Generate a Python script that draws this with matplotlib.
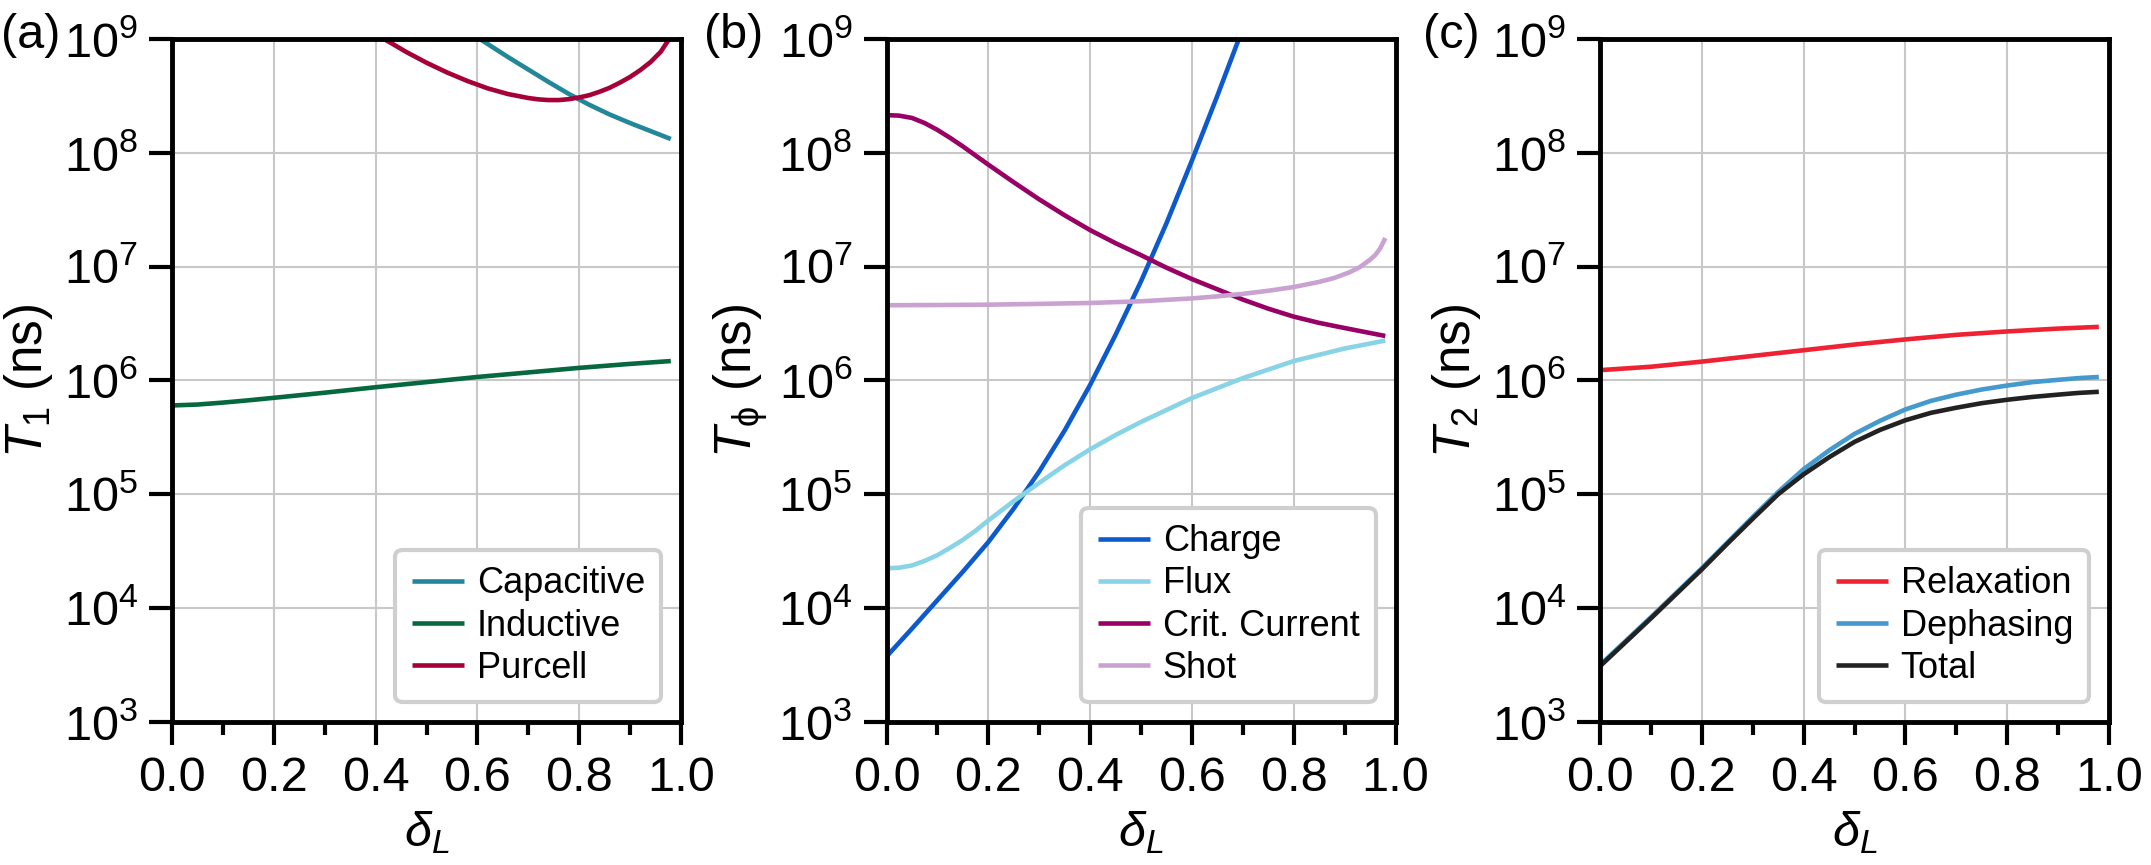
"""
Coherence times vs delta_L: T1, T_phi and T2 contributions (three log panels).
"""
import numpy as np
import matplotlib
matplotlib.use('Agg')
import matplotlib.pyplot as plt
from matplotlib.ticker import FixedLocator, NullLocator, MultipleLocator

plt.rcParams['font.family'] = ['Liberation Sans', 'DejaVu Sans']
plt.rcParams['mathtext.fontset'] = 'custom'
plt.rcParams['mathtext.rm'] = 'Liberation Sans'
plt.rcParams['mathtext.it'] = 'Liberation Sans:italic'
plt.rcParams['mathtext.bf'] = 'Liberation Sans:bold'

# ---- data (log10 of time in ns) ----
# (a) T1
cap_x = [0.58, 0.62, 0.66, 0.70, 0.74, 0.78, 0.82, 0.86, 0.90, 0.94, 0.98]
cap_log = [9.07, 8.955, 8.84, 8.73, 8.62, 8.515, 8.42, 8.335, 8.26, 8.19, 8.12]

ind_x = [0.0, 0.05, 0.1, 0.15, 0.2, 0.3, 0.4, 0.5, 0.6, 0.7, 0.8, 0.9, 0.98]
ind_log = [5.78, 5.788, 5.805, 5.825, 5.847, 5.892, 5.94, 5.985, 6.03, 6.07,
           6.11, 6.145, 6.17]

pur_x = [0.38, 0.42, 0.46, 0.50, 0.54, 0.58, 0.62, 0.66, 0.70, 0.72, 0.74,
         0.76, 0.78, 0.80, 0.82, 0.84, 0.86, 0.88, 0.90, 0.92, 0.94, 0.96, 0.98]
pur_log = [9.10, 8.99, 8.885, 8.79, 8.705, 8.63, 8.565, 8.515, 8.48, 8.468,
           8.462, 8.462, 8.47, 8.485, 8.505, 8.535, 8.57, 8.615, 8.665, 8.725,
           8.795, 8.885, 9.02]

# (b) T_phi
chg_x = [0.0, 0.05, 0.1, 0.15, 0.2, 0.25, 0.3, 0.35, 0.4, 0.45, 0.5, 0.55,
         0.6, 0.65, 0.7, 0.72]
chg_log = [3.575, 3.82, 4.07, 4.32, 4.58, 4.875, 5.20, 5.56, 5.96, 6.40, 6.87,
           7.38, 7.93, 8.50, 9.09, 9.33]

flx_x = [0.0, 0.025, 0.05, 0.075, 0.1, 0.125, 0.15, 0.175, 0.2, 0.25, 0.3,
         0.35, 0.4, 0.45, 0.5, 0.6, 0.7, 0.8, 0.9, 0.98]
flx_log = [4.35, 4.355, 4.375, 4.415, 4.465, 4.53, 4.60, 4.68, 4.77, 4.94,
           5.10, 5.255, 5.395, 5.52, 5.635, 5.845, 6.02, 6.17, 6.28, 6.35]

crit_x = [0.0, 0.025, 0.05, 0.075, 0.1, 0.125, 0.15, 0.175, 0.2, 0.25, 0.3,
          0.35, 0.4, 0.45, 0.5, 0.55, 0.6, 0.65, 0.7, 0.75, 0.8, 0.85, 0.9,
          0.94, 0.98]
crit_log = [8.33, 8.325, 8.305, 8.26, 8.20, 8.13, 8.055, 7.975, 7.895, 7.74,
            7.59, 7.45, 7.32, 7.205, 7.10, 6.99, 6.89, 6.80, 6.71, 6.63, 6.56,
            6.505, 6.46, 6.425, 6.39]

shot_x = [0.0, 0.1, 0.2, 0.3, 0.4, 0.5, 0.6, 0.65, 0.7, 0.75, 0.8, 0.85,
          0.88, 0.91, 0.93, 0.95, 0.96, 0.97, 0.98]
shot_log = [6.66, 6.662, 6.665, 6.672, 6.68, 6.695, 6.72, 6.738, 6.76, 6.787,
            6.82, 6.865, 6.90, 6.95, 6.995, 7.06, 7.10, 7.16, 7.25]

# (c) T2
rel_x = [0.0, 0.1, 0.2, 0.3, 0.4, 0.5, 0.6, 0.7, 0.8, 0.9, 0.98]
rel_log = [6.09, 6.12, 6.165, 6.215, 6.265, 6.315, 6.36, 6.40, 6.43, 6.455, 6.47]

t2_x = [0.0, 0.05, 0.1, 0.15, 0.2, 0.25, 0.3, 0.35, 0.4, 0.45, 0.5, 0.55,
        0.6, 0.65, 0.7, 0.75, 0.8, 0.85, 0.9, 0.94, 0.98]
deph_log = [3.50, 3.71, 3.92, 4.135, 4.35, 4.575, 4.80, 5.02, 5.22, 5.385,
            5.53, 5.645, 5.745, 5.82, 5.875, 5.92, 5.955, 5.985, 6.005, 6.02,
            6.03]
tot_log = [3.49, 3.70, 3.91, 4.125, 4.34, 4.565, 4.785, 5.00, 5.175, 5.325,
           5.46, 5.565, 5.65, 5.715, 5.76, 5.80, 5.83, 5.855, 5.875, 5.89,
           5.90]

panel_tags = ['(a)', '(b)', '(c)']
y_labels = [r'$T_1$ (ns)', r'$T_{\mathrm{\phi}}$ (ns)', r'$T_2$ (ns)']
x_ticks = [0.0, 0.2, 0.4, 0.6, 0.8, 1.0]
y_ticks = [1e3, 1e4, 1e5, 1e6, 1e7, 1e8, 1e9]

LW = 3.3
FS = 35

panels = [
    [(cap_x, cap_log, 'Capacitive', '#23879A'),
     (ind_x, ind_log, 'Inductive', '#05683F'),
     (pur_x, pur_log, 'Purcell', '#A5003A')],
    [(chg_x, chg_log, 'Charge', '#0C5ACB'),
     (flx_x, flx_log, 'Flux', '#88D4E6'),
     (crit_x, crit_log, 'Crit. Current', '#990066'),
     (shot_x, shot_log, 'Shot', '#C9A2D2')],
    [(rel_x, rel_log, 'Relaxation', '#EE2233'),
     (t2_x, deph_log, 'Dephasing', '#4499CD'),
     (t2_x, tot_log, 'Total', '#222222')],
]

fig = plt.figure(figsize=(21.51, 8.65), dpi=100)
lefts = [172 / 2151, 886.5 / 2151, 1600 / 2151]
tag_off = [-0.22, -0.242, -0.236]
width = 509 / 2151
bottom = 1 - 722 / 865
height = (722 - 38.8) / 865

for i, series in enumerate(panels):
    ax = fig.add_axes([lefts[i], bottom, width, height])
    for xs, logs, lab, col in series:
        ax.plot(xs, 10 ** np.array(logs), color=col, lw=LW, label=lab,
                solid_capstyle='butt')
    ax.set_yscale('log')
    ax.set_xlim(0, 1)
    ax.set_ylim(1e3, 1e9)
    ax.yaxis.set_major_locator(FixedLocator(y_ticks))
    ax.yaxis.set_minor_locator(NullLocator())
    ax.xaxis.set_major_locator(FixedLocator(x_ticks))
    ax.xaxis.set_minor_locator(MultipleLocator(0.1))
    ax.set_xticklabels(['%.1f' % t for t in x_ticks])
    ax.grid(True, which='major', color='#c8c8c8', lw=1.5)
    ax.set_axisbelow(True)
    for sp in ax.spines.values():
        sp.set_linewidth(3.5)
    ax.tick_params(which='major', direction='out', length=16.5, width=3,
                   labelsize=FS, pad=8)
    ax.tick_params(which='minor', direction='out', length=9.5, width=3)
    ax.set_xlabel(r'$\delta_L$', fontsize=FS, labelpad=6)
    ax.set_ylabel(y_labels[i], fontsize=37, labelpad=6)
    ax.text(tag_off[i], 1.005, panel_tags[i], transform=ax.transAxes,
            ha='right', va='center', fontsize=FS)
    leg = ax.legend(loc='lower right', fontsize=26, handlelength=1.45,
                    handletextpad=0.35, labelspacing=0.2, borderpad=0.45,
                    borderaxespad=0.55, fancybox=True, framealpha=1,
                    edgecolor='#cfcfcf')
    leg.get_frame().set_linewidth(3)

fig.savefig('out.png', dpi=100, facecolor='white')
plt.close(fig)
